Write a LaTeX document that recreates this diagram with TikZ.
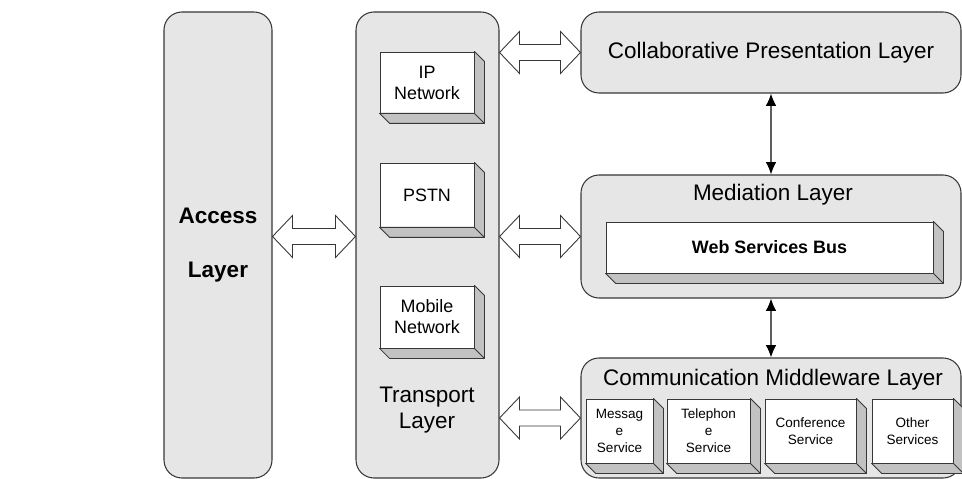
\documentclass[tikz,border=0pt]{standalone}
\usepackage{fontspec}
\setmainfont{Liberation Sans}
\usepackage{tikz}
\usetikzlibrary{arrows.meta, calc, fit}
\definecolor{layerfill}{RGB}{230,230,230}
\definecolor{sidefill}{RGB}{194,194,194}
\definecolor{edge}{RGB}{55,55,55}
\newcommand{\layerfont}{\fontsize{12.8}{15}\selectfont}
\newcommand{\slabfont}{\fontsize{10.2}{12}\selectfont}
\newcommand{\svcfont}{\fontsize{7.7}{9.6}\selectfont}
\newcommand{\slabside}[1]{\filldraw[fill=sidefill, draw=edge, line width=0.5pt, line join=round] (#1.north east) -- ++(10,10) -- ($(#1.south east)+(10,10)$) -- ($(#1.south west)+(10,10)$) -- (#1.south west) -- (#1.south east) -- cycle;
	\draw[edge, line width=0.5pt] (#1.south east) -- ++(10,10);}
\newcommand{\hollowarrow}[2]{\draw[blockarrow] (#1) -- ++(20,-21) -- ++(0,13) -- ($(#2)+(-20,-8)$) -- ++(0,-13) -- (#2) -- ++(-20,21) -- ++(0,-13) -- ($(#1)+(20,8)$) -- ++(0,13) -- cycle;}

\begin{document}
\begin{tikzpicture}[x=0.02cm, y=-0.02cm,
	layerbox/.style={draw=edge, fill=layerfill, line width=0.6pt, rounded corners=0.36cm, inner sep=0pt},
	slabbox/.style={draw=edge, fill=white, line width=0.5pt, inner sep=0pt},
	layertxt/.style={align=center, font=\layerfont},
	slabtxt/.style={align=center, font=\slabfont},
	svctxt/.style={align=center, font=\svcfont},
	blockarrow/.style={draw=edge, fill=white, line width=0.5pt, line join=miter},
	biarrow/.style={draw=edge!80, line width=0.7pt, {Latex[length=7pt,width=6pt,color=black]}-{Latex[length=7pt,width=6pt,color=black]}}]
	\useasboundingbox (0,0) rectangle (962,479);

	\node[layerbox, fit={(164,12) (272,478)}, label={[layertxt]center:\textbf{Access}\\[16pt]\textbf{Layer}}] (access) {};
	\node[layerbox, fit={(356,12) (499,478)}] (transport) {};
	\node[layertxt] (transporttxt) at (427,410) {Transport\\Layer};

	\node[layerbox, fit={(581,12) (961,93)}, label={[layertxt]center:Collaborative Presentation Layer}] (collab) {};
	\node[layerbox, fit={(581,175) (961,298)}] (mediation) {};
	\node[layertxt] (mediationtxt) at (773,195) {Mediation Layer};
	\node[layerbox, fit={(581,358) (961,478)}] (comm) {};
	\node[layertxt] (commtxt) at (773,380) {Communication Middleware Layer};

	\node[slabbox, fit={(380,52) (474,113)}, label={[slabtxt]center:IP\\Network}] (ip) {};
	\node[slabbox, fit={(380,163) (474,227)}, label={[slabtxt]center:PSTN}] (pstn) {};
	\node[slabbox, fit={(380,286) (474,348)}, label={[slabtxt]center:Mobile\\Network}] (mobile) {};
	\node[slabbox, fit={(606,222) (933,273)}, label={[slabtxt]center:\textbf{Web Services Bus}}] (wsbus) {};
	\node[slabbox, fit={(586,399) (653,463)}, label={[svctxt]center:Messag\\e\\Service}] (msg) {};
	\node[slabbox, fit={(667,399) (750,463)}, label={[svctxt]center:Telephon\\e\\Service}] (tel) {};
	\node[slabbox, fit={(765,399) (856,463)}, label={[svctxt]center:Conference\\Service}] (conf) {};
	\node[slabbox, fit={(872,399) (953,463)}, label={[svctxt]center:Other\\Services}] (other) {};
	\foreach \s in {ip, pstn, mobile, wsbus, msg, tel, conf, other}
		\slabside{\s};

	\hollowarrow{access.east |- mediation.west}{transport.west |- mediation.west}
	\hollowarrow{transport.east |- collab.west}{collab.west}
	\hollowarrow{transport.east |- mediation.west}{mediation.west}
	\hollowarrow{transport.east |- comm.west}{comm.west}

	\draw[biarrow] (collab) -- (mediation);
	\draw[biarrow] (mediation) -- (comm);
\end{tikzpicture}
\end{document}
